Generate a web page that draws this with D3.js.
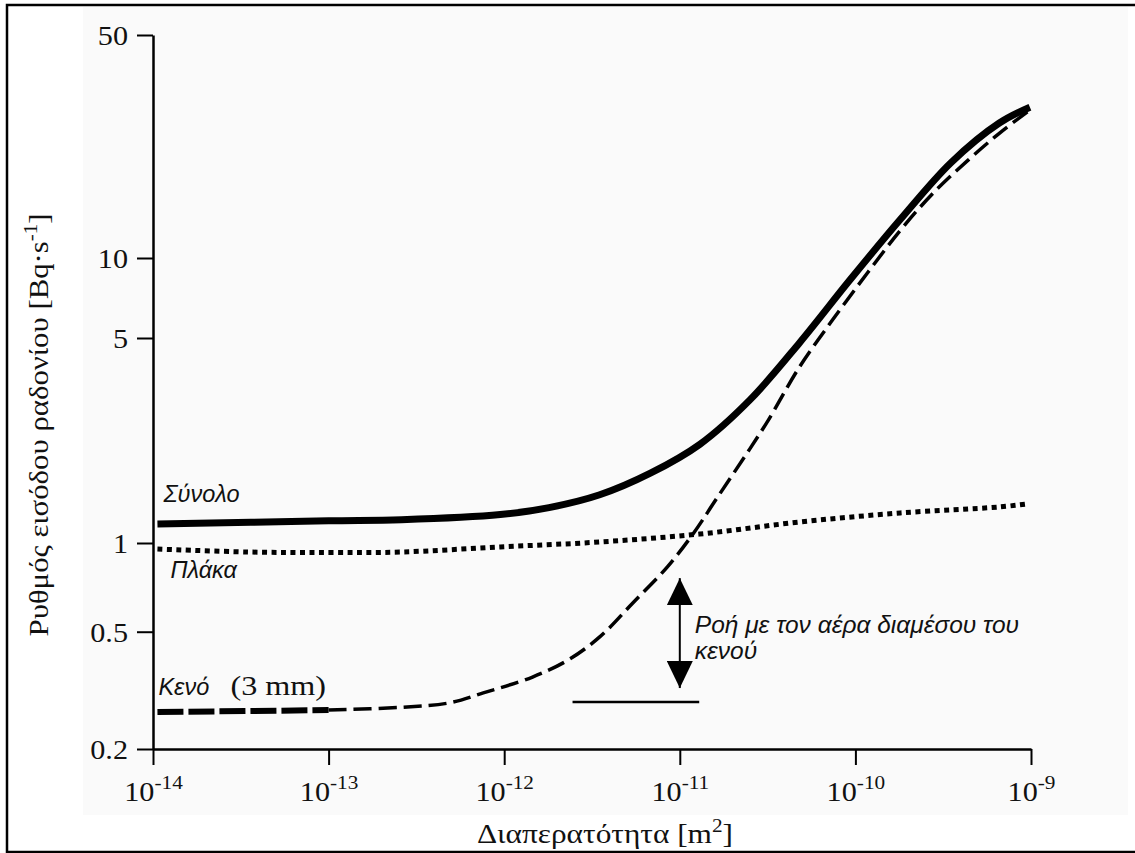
<!DOCTYPE html>
<html>
<head>
<meta charset="utf-8">
<title>Ρυθμός εισόδου ραδονίου - Διαπερατότητα</title>
<script src="https://d3js.org/d3.v7.min.js"></script>
<style>
  body { margin: 0; background: #fff; }
</style>
</head>
<body>
<div id="chart"></div>
<script>

// permeability [m^2] / radon entry rate [Bq/s]
var totalK = [1.06e-14, 1e-13, 2.6e-13, 9.5e-13, 1.8e-12, 3.5e-12, 6.8e-12, 1.3e-11, 2.5e-11, 4.8e-11, 9.3e-11, 1.8e-10, 3.5e-10, 6.6e-10, 9.86e-10];
var totalRate = [1.16, 1.19, 1.20, 1.25, 1.32, 1.46, 1.73, 2.17, 3.07, 4.81, 8.26, 13.2, 19.9, 26.5, 29.7];

var slabK = [1.06e-14, 3.5e-14, 1e-13, 2.6e-13, 9.5e-13, 3.5e-12, 1.3e-11, 4.8e-11, 1.8e-10, 6.6e-10, 9.5e-10];
var slabRate = [0.954, 0.932, 0.928, 0.932, 0.97, 1.008, 1.073, 1.179, 1.266, 1.327, 1.359];

var gapK = [1.06e-14, 1e-13, 2.6e-13, 4.9e-13, 7.6e-13, 1.45e-12, 2.3e-12, 3.5e-12, 5.4e-12, 8.5e-12, 1.2e-11, 1.6e-11, 2.5e-11, 3.2e-11, 4.8e-11, 7.4e-11, 1.17e-10, 1.8e-10, 2.75e-10, 4.4e-10, 6.6e-10, 9.86e-10];
var gapRate = [0.267, 0.271, 0.277, 0.287, 0.31, 0.351, 0.40, 0.48, 0.626, 0.83, 1.082, 1.401, 2.09, 2.63, 3.98, 5.84, 8.78, 12.2, 15.9, 20.3, 24.6, 29.1];

var xTicks = [1e-14, 1e-13, 1e-12, 1e-11, 1e-10, 1e-9];
var yTicks = [0.2, 0.5, 1, 5, 10, 50];
var yTickLabels = ["0.2", "0.5", "1", "5", "10", "50"];

// annotation: arrow between gap floor and slab level
var arrowK = 1e-11;
var arrowRate = [0.322, 0.76];
var floorK = [2.45e-12, 1.29e-11];
var floorRate = 0.289;

var width = 1135, height = 853;
var serif = "'Liberation Serif', 'Times New Roman', serif";
var sans = "'Liberation Sans', Arial, sans-serif";
var wide = 1.12; // the serif lettering in the original is a bit wider than Times

var svg = d3.select("#chart")
    .append("svg")
    .attr("width", width)
    .attr("height", height);

// faint backdrop + frame
svg.append("rect")
    .attr("x", 83).attr("y", 7)
    .attr("width", 1045).attr("height", 808)
    .attr("fill", "#fafafa");

svg.append("rect")
    .attr("x", 7).attr("y", 5)
    .attr("width", 1140).attr("height", 847)
    .attr("fill", "none")
    .attr("stroke", "#000")
    .attr("stroke-width", 2.5);

var x = d3.scaleLog().domain([1e-14, 1e-9]).range([153, 1031]);
// the printed axis is not quite uniform, so pin the labelled values
var y = d3.scaleLog().domain([0.2, 1, 5, 10, 50]).range([749, 543, 338, 258, 35]);

function pts(ks, rs) {
    return ks.map(function(k, i) { return { k: k, r: rs[i] }; });
}
var total = pts(totalK, totalRate);
var slab = pts(slabK, slabRate);
var gap = pts(gapK, gapRate);

var line = d3.line()
    .x(function(d) { return x(d.k); })
    .y(function(d) { return y(d.r); })
    .curve(d3.curveCatmullRom.alpha(0.5));

// axes
var gx = svg.append("g")
    .attr("transform", "translate(0," + 749 + ")")
    .call(d3.axisBottom(x).tickValues(xTicks).tickSize(16).tickSizeOuter(0));

gx.select(".domain").attr("stroke-width", 2.5);
gx.selectAll(".tick line").attr("stroke-width", 2);
gx.selectAll(".tick text")
    .attr("y", 52)
    .attr("dy", null)
    .attr("transform", "scale(" + wide + ",1)")
    .attr("font-family", serif)
    .attr("font-size", 27)
    .attr("fill", "#111")
    .each(function(d) {
        var t = d3.select(this);
        t.text(null);
        t.append("tspan").text("10");
        t.append("tspan")
            .attr("dy", -12)
            .attr("font-size", 19)
            .text(Math.round(Math.log10(d)));
    });

var gy = svg.append("g")
    .attr("transform", "translate(153,0)")
    .call(d3.axisLeft(y).tickValues(yTicks).tickSize(16).tickSizeOuter(0)
        .tickFormat(function(d, i) { return yTickLabels[i]; }));

gy.select(".domain").attr("stroke-width", 2.5);
gy.selectAll(".tick line").attr("stroke-width", 2);
gy.selectAll(".tick text")
    .attr("x", -25 / wide)
    .attr("dy", "0.36em")
    .attr("transform", "scale(" + wide + ",1)")
    .attr("font-family", serif)
    .attr("font-size", 27)
    .attr("fill", "#111");

// series
svg.append("path")
    .datum(total)
    .attr("d", line)
    .attr("fill", "none")
    .attr("stroke", "#000")
    .attr("stroke-width", 7);

svg.append("path")
    .datum(slab)
    .attr("d", line)
    .attr("fill", "none")
    .attr("stroke", "#000")
    .attr("stroke-width", 5)
    .attr("stroke-dasharray", "5,4.5");

svg.append("path")
    .datum(gap.filter(function(d) { return d.k <= 1e-13; }))
    .attr("d", line)
    .attr("fill", "none")
    .attr("stroke", "#000")
    .attr("stroke-width", 6)
    .attr("stroke-dasharray", "26,5");

svg.append("path")
    .datum(gap.filter(function(d) { return d.k >= 1e-13; }))
    .attr("d", line)
    .attr("fill", "none")
    .attr("stroke", "#000")
    .attr("stroke-width", 3.5)
    .attr("stroke-dasharray", "18,7");

// series labels
function label(p, dx, dy, txt) {
    return svg.append("text")
        .attr("x", x(p.k) + dx)
        .attr("y", y(p.r) + dy)
        .attr("font-family", sans)
        .attr("font-style", "italic")
        .attr("font-size", 23.5)
        .attr("fill", "#111")
        .text(txt);
}
label(total[0], 6, -22, "Σύνολο");
label(slab[0], 13, 29, "Πλάκα");
label(gap[0], 1, -17, "Κενό");

svg.append("text")
    .attr("transform", "translate(" + (x(gap[0].k) + 73) + "," + (y(gap[0].r) - 17) + ") scale(1.15,1)")
    .attr("font-family", serif)
    .attr("font-size", 28)
    .attr("fill", "#111")
    .text("(3 mm)");

// arrow annotation
var defs = svg.append("defs");
defs.append("marker")
    .attr("id", "head")
    .attr("viewBox", "0 0 27 26")
    .attr("refX", 27).attr("refY", 13)
    .attr("markerWidth", 27).attr("markerHeight", 26)
    .attr("markerUnits", "userSpaceOnUse")
    .attr("orient", "auto-start-reverse")
    .append("path")
    .attr("d", "M0,0L27,13L0,26Z")
    .attr("fill", "#000");

svg.append("line")
    .attr("x1", x(arrowK)).attr("x2", x(arrowK))
    .attr("y1", y(arrowRate[1])).attr("y2", y(arrowRate[0]))
    .attr("stroke", "#000")
    .attr("stroke-width", 2)
    .attr("marker-start", "url(#head)")
    .attr("marker-end", "url(#head)");

svg.append("line")
    .attr("x1", x(floorK[0])).attr("x2", x(floorK[1]))
    .attr("y1", y(floorRate)).attr("y2", y(floorRate))
    .attr("stroke", "#000")
    .attr("stroke-width", 2.5);

var note = svg.append("text")
    .attr("font-family", sans)
    .attr("font-style", "italic")
    .attr("font-size", 24.5)
    .attr("fill", "#111");
note.append("tspan")
    .attr("x", x(arrowK) + 15)
    .attr("y", (y(arrowRate[0]) + y(arrowRate[1])) / 2)
    .text("Ροή με τον αέρα διαμέσου του");
note.append("tspan")
    .attr("x", x(arrowK) + 15)
    .attr("dy", 26)
    .text("κενού");

// axis titles
svg.append("text")
    .attr("transform", "translate(605,843) scale(" + wide + ",1)")
    .attr("text-anchor", "middle")
    .attr("font-family", serif)
    .attr("font-size", 28)
    .attr("fill", "#111")
    .call(function(t) {
        t.append("tspan").text("Διαπερατότητα [m");
        t.append("tspan").attr("dy", -11).attr("font-size", 19).text("2");
        t.append("tspan").attr("dy", 11).text("]");
    });

svg.append("text")
    .attr("transform", "translate(48,425) rotate(-90) scale(1.1,1)")
    .attr("text-anchor", "middle")
    .attr("font-family", serif)
    .attr("font-size", 28)
    .attr("fill", "#111")
    .call(function(t) {
        t.append("tspan").text("Ρυθμός εισόδου ραδονίου [Bq·s");
        t.append("tspan").attr("dy", -11).attr("font-size", 19).text("-1");
        t.append("tspan").attr("dy", 11).text("]");
    });

</script>
</body>
</html>
